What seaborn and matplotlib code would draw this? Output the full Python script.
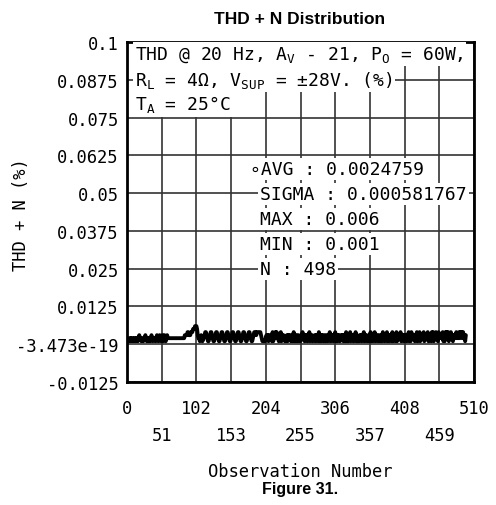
import matplotlib
matplotlib.use("Agg")
import matplotlib.pyplot as plt
import seaborn as sns
import numpy as np

# THD+N readings in thousandths of a percent, 10 observations per chunk
THD_MILLI = [
    "1122121221", "2212212322", "1221223212", "2121232122", "2123212321",
    "2312321232", "2222222222", "2222222222", "2222333344", "3334445556",
    "6653221232", "1223443211", "2344321123", "4432112344", "3211234432",
    "1123443211", "2344321123", "4432112344", "3211234443", "4444443211",
    "1112323132", "2314132434", "2313241323", "2121313232", "1312413131",
    "2312132423", "1323132413", "2312231323", "1413132312", "3123132413",
    "2313241313", "2312323132", "1413132413", "2313241312", "1323132413",
    "2312132413", "1324132312", "3123142313", "2413132314", "1323141323",
    "2413231323", "1324131423", "2313241324", "1323241323", "2413231424",
    "1324231423", "2324131424", "2413242313", "2324232424", "34242313",
]
thd = np.array([int(c) for c in "".join(THD_MILLI)]) * 0.001
obs = np.arange(1, len(thd) + 1)

y_ticks = [0.1, 0.0875, 0.075, 0.0625, 0.05, 0.0375, 0.025, 0.0125, 0.0, -0.0125]
y_labels = ["0.1", "0.0875", "0.075", "0.0625", "0.05", "0.0375", "0.025",
            "0.0125", "-3.473e-19", "-0.0125"]
x_major = [0, 102, 204, 306, 408, 510]
x_minor = [51, 153, 255, 357, 459]

stats = ["\u2218AVG : 0.0024759", "SIGMA : 0.000581767", "MAX : 0.006",
         "MIN : 0.001", "N : 498"]

sns.set_style("white")
MONO = "DejaVu Sans Mono"
plt.rcParams["font.family"] = [MONO]
plt.rcParams["text.color"] = "black"
plt.rcParams["axes.labelcolor"] = "black"
plt.rcParams["xtick.color"] = "black"
plt.rcParams["ytick.color"] = "black"
FS = 12.3
FS_NOTE = 13

fig = plt.figure(figsize=(4.96, 5.06), dpi=100)
ax = fig.add_axes([127 / 496, 1 - 383 / 506, 347 / 496, 340 / 506])

sns.lineplot(x=obs, y=thd, ax=ax, color="black", linewidth=2.8)

ax.set_xlim(0, 510)
ax.set_ylim(-0.0125, 0.1)
ax.set_xticks(x_major)
ax.set_xticklabels([str(v) for v in x_major], family=MONO)
ax.set_xticks(x_minor, minor=True)
ax.set_xticklabels([str(v) for v in x_minor], minor=True, family=MONO)
ax.set_yticks(y_ticks)
ax.set_yticklabels(y_labels, family=MONO)

ax.tick_params(axis="x", which="major", direction="in", length=5, pad=12,
               labelsize=FS, top=True)
ax.tick_params(axis="x", which="minor", direction="in", length=5, pad=32,
               labelsize=FS, top=True)
ax.tick_params(axis="y", direction="in", length=3, pad=6, labelsize=FS)
ax.grid(True, which="both", color="#333333", linewidth=1.2)
for sp in ax.spines.values():
    sp.set_linewidth(2)
    sp.set_color("black")

box = dict(facecolor="white", edgecolor="none", pad=1.5)
txt = dict(transform=ax.transAxes, fontsize=FS_NOTE, va="center", bbox=box, family=MONO)
ax.text(0.023, 0.965, "THD @ 20 Hz, A$_\\mathregular{V}$ - 21, P$_\\mathregular{O}$ = 60W,", **txt)
ax.text(0.023, 0.891, "R$_\\mathregular{L}$ = 4\u03a9, V$_\\mathregular{SUP}$ = \u00b128V. (%)", **txt)
ax.text(0.023, 0.818, "T$_\\mathregular{A}$ = 25\u00b0C", **txt)

stat_y = [0.626, 0.553, 0.479, 0.406, 0.332]
for i, (s, yy) in enumerate(zip(stats, stat_y)):
    xx = 0.354 if i == 0 else 0.383
    ax.text(xx, yy, s, **txt)

ax.set_ylabel("THD + N (%)", fontsize=FS, family=MONO)
ax.yaxis.set_label_coords(-0.28, 0.494)
ax.set_xlabel("Observation Number", fontsize=FS, va="center", family=MONO)
ax.xaxis.set_label_coords(0.5, (383 - 472) / 340)

fig.text(300 / 496, 1 - 19 / 506, "THD + N Distribution", ha="center", va="center",
         fontsize=12.5, fontweight="bold", family="Liberation Sans")
fig.text(300 / 496, 1 - 490 / 506, "Figure 31.", ha="center", va="center",
         fontsize=11.5, fontweight="bold", family="Liberation Sans")

fig.savefig("out.png", dpi=100)
